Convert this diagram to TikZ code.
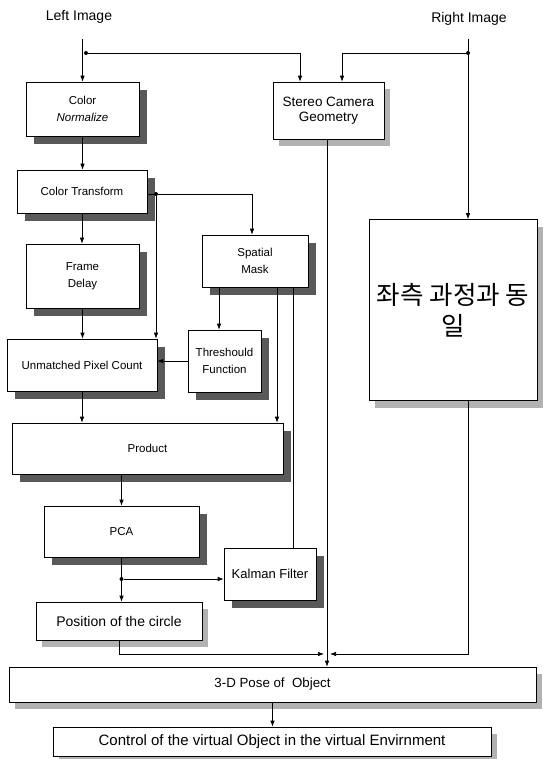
\documentclass[tikz,border=0pt]{standalone}
\usepackage{fontspec}
\setmainfont{Liberation Sans}
\newfontfamily\kofont{Noto Sans CJK KR}
\usetikzlibrary{arrows.meta,shadows,calc}

\begin{document}
\begin{tikzpicture}[x=1pt,y=-1pt,
  box/.style={draw,line width=0.6pt,fill=white,align=center,inner sep=1pt,font=\fontsize{11.5}{16.5}\selectfont},
  dk/.style={box,drop shadow={shadow xshift=8pt,shadow yshift=-8pt,fill=black!65,opacity=1}},
  lt/.style={box,drop shadow={shadow xshift=6pt,shadow yshift=-7pt,fill=black!30,opacity=1}},
  lbl/.style={font=\fontsize{14}{16}\selectfont},
  arr/.style={-{Latex[length=6pt,width=4.5pt]},line width=0.7pt},
  ln/.style={line width=0.7pt},
  dot/.style={circle,fill,inner sep=0pt,minimum size=4pt}
]
  \path[fill=white,use as bounding box] (0,0) rectangle (542,759);

  \node[lbl] (limg) at (79,17) {Left Image};
  \node[lbl] (rimg) at (469,19) {Right Image};

  \node[dk,minimum width=113pt,minimum height=54pt] (norm) at (82.5,109) {Color\\\textit{Normalize}};
  \node[lt,minimum width=111pt,minimum height=57pt,font=\fontsize{13.5}{15.5}\selectfont] (stereo) at (328.5,110.5) {Stereo Camera\\Geometry};
  \node[dk,minimum width=130pt,minimum height=43pt] (ctrans) at (82,191.5) {Color Transform};
  \node[dk,minimum width=106pt,minimum height=52pt] (smask) at (255,261) {Spatial\\Mask};
  \node[dk,minimum width=113pt,minimum height=64pt] (fdelay) at (82.5,276) {Frame\\Delay};
  \node[dk,minimum width=150pt,minimum height=52pt] (upc) at (82,365) {Unmatched Pixel Count};
  \node[dk,minimum width=73pt,minimum height=62pt] (thresh) at (224.5,361) {Threshould\\Function};
  \node[lt,minimum width=168pt,minimum height=181pt,font=\kofont\fontsize{25.5}{31}\selectfont] (same) at (453,310) {좌측 과정과 동\\일};
  \node[dk,minimum width=271pt,minimum height=51pt] (product) at (147.5,448.5) {Product};
  \node[dk,minimum width=155pt,minimum height=51pt] (pca) at (121.5,531.5) {PCA};
  \node[dk,minimum width=92pt,minimum height=52pt,font=\fontsize{13}{15}\selectfont] (kalman) at (270,574) {Kalman Filter};
  \node[lt,minimum width=166pt,minimum height=38pt,font=\fontsize{14}{16}\selectfont] (pos) at (119,621) {Position of the circle};
  \node[lt,minimum width=527pt,minimum height=35pt,font=\fontsize{13.3}{16}\selectfont] (pose) at (272.5,684.5) {3-D Pose of\ \ Object};
  \node[lt,minimum width=438pt,minimum height=29pt,font=\fontsize{15}{17}\selectfont] (ctrl) at (272,741.5) {Control of the virtual Object in the virtual Envirnment};

  \coordinate (ltop) at (82.5,39);
  \coordinate (rtop) at (468,39);
  \node[dot] (ldot) at (86,53) {};
  \node[dot] (rdot) at (468,53) {};
  \node[dot] (cdot) at (156,194) {};
  \node[dot] (kdot) at (121.5,579) {};
  \coordinate (mrg) at (327,654);

  \draw[arr] (ltop) -- (norm);
  \draw[arr] (rtop) -- (rtop |- same.north);
  \draw[arr] (ldot) -| ([xshift=-28.5pt]stereo.north);
  \draw[arr] (rdot) -| ([xshift=13.5pt]stereo.north);
  \draw[arr] (norm) -- (norm |- ctrans.north);
  \draw[arr] (ctrans) -- (ctrans |- fdelay.north);
  \draw[arr] (fdelay) -- (fdelay |- upc.north);
  \draw[arr] (upc) -- (upc |- product.north);
  \draw[ln] (ctrans.east |- cdot) -- (cdot);
  \draw[arr] (cdot) -| ([xshift=-3pt]smask.north);
  \draw[arr] (cdot) -- (cdot |- upc.north);
  \draw[arr] ([xshift=-5.5pt]thresh.north |- smask.south) -- ([xshift=-5.5pt]thresh.north);
  \draw[arr] (thresh) -- (thresh -| upc.east);
  \draw[arr] ([xshift=22pt]smask.south) -- ([xshift=22pt]smask.south |- product.north);
  \draw[ln] ([xshift=38pt]smask.south) -- ([xshift=38pt]smask.south |- kalman.north);
  \draw[arr] (pca |- product.south) -- (pca);
  \draw[arr] (pca) -- (pca |- pos.north);
  \draw[arr] (kdot) -- (kdot -| kalman.west);
  \draw[arr] (pos) |- ([xshift=-3pt]mrg);
  \draw[arr] (rtop |- same.south) |- ([xshift=3pt]mrg);
  \draw[arr] (stereo.south -| mrg) -- (mrg |- pose.north);
  \draw[arr] (pose) -- (pose |- ctrl.north);
\end{tikzpicture}
\end{document}
